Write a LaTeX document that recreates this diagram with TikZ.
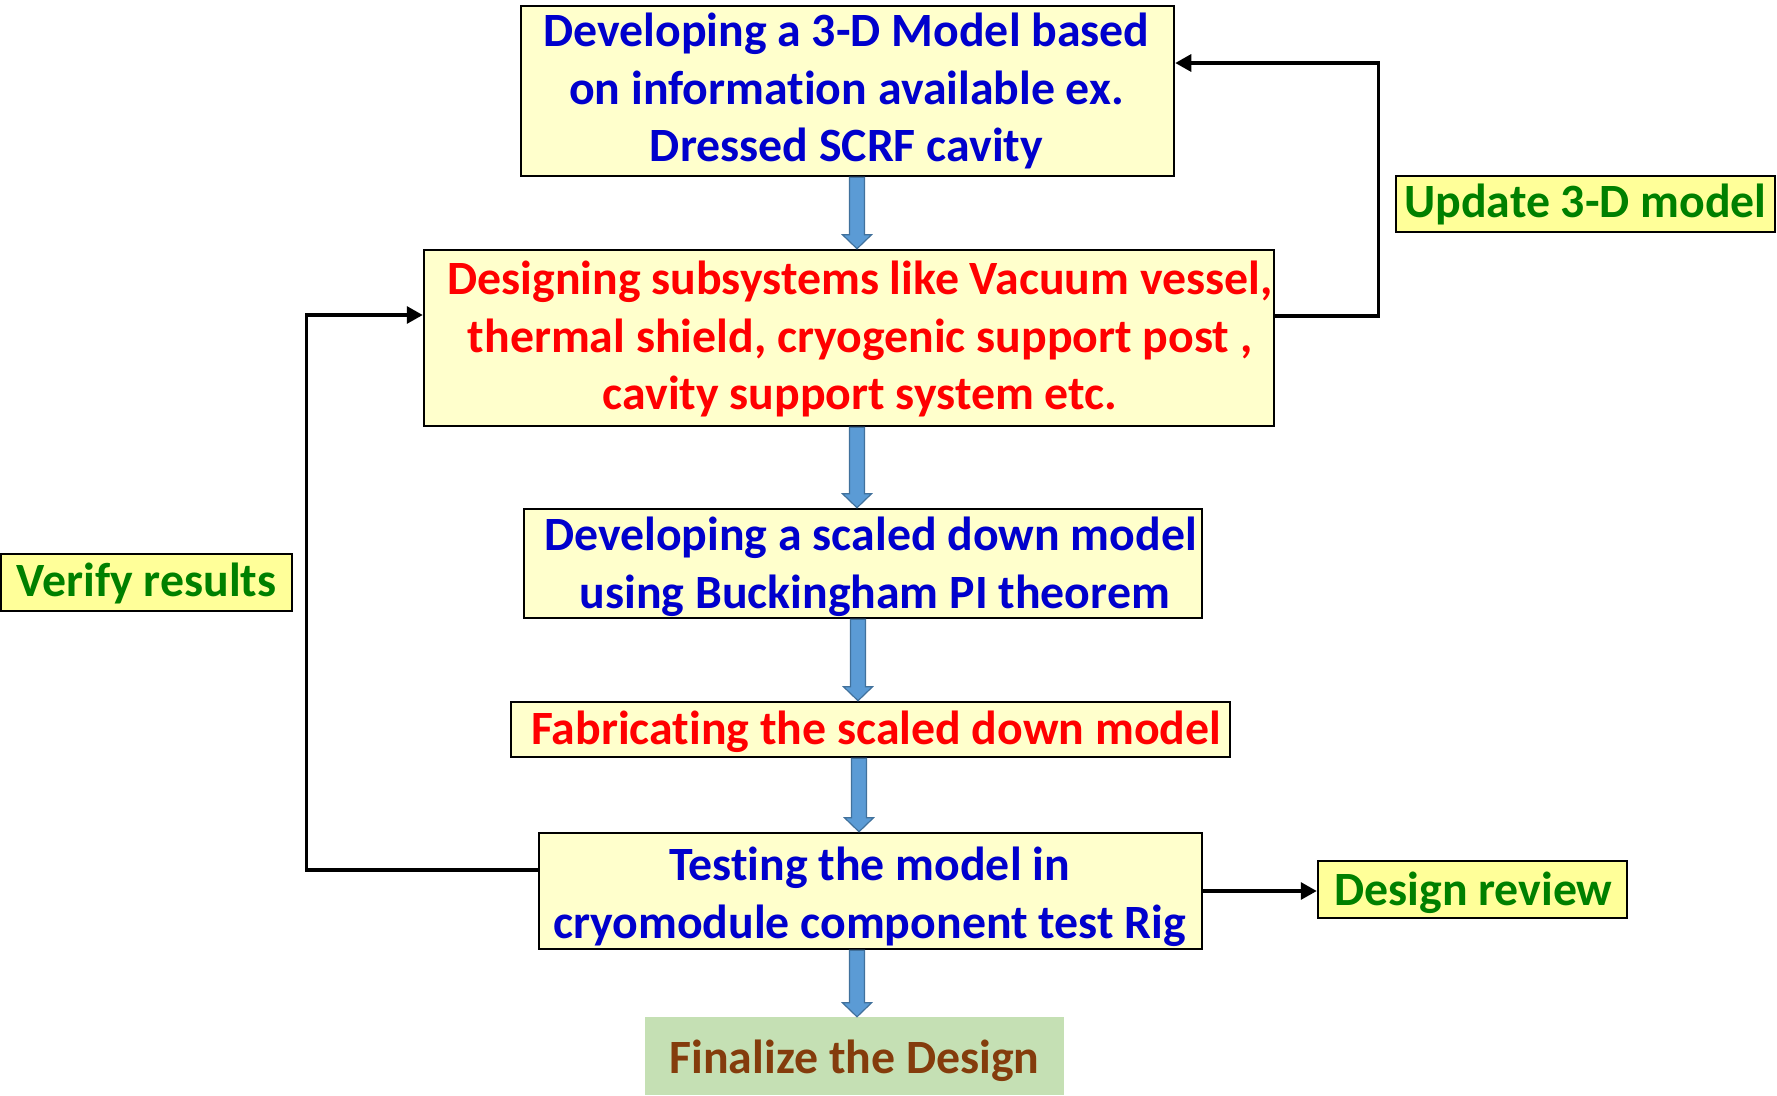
\documentclass[tikz,border=0pt]{standalone}
\usepackage{fontspec}
\setmainfont{Carlito}[Ligatures=NoCommon]
\usetikzlibrary{arrows.meta,calc}
\definecolor{tblue}{HTML}{0000CC}
\definecolor{tred}{HTML}{FF0000}
\definecolor{tgreen}{HTML}{008000}
\definecolor{tbrown}{HTML}{843C0C}
\definecolor{boxfill}{HTML}{FFFFCC}
\definecolor{labfill}{HTML}{FFFF99}
\definecolor{finfill}{HTML}{C5E0B4}
\definecolor{arrfill}{HTML}{5B9BD5}
\definecolor{arrdraw}{HTML}{41719C}
\tikzset{
  bigfont/.style={font=\fontsize{47.8}{57.5}\selectfont\bfseries},
  mainbox/.style={draw=black, line width=2.5pt, fill=boxfill, inner sep=0pt},
  boxtext/.style={inner sep=0pt, align=center, bigfont},
  labbox/.style={draw=black, line width=2.5pt, fill=labfill, inner sep=0pt},
  conn/.style={line width=3.2pt, -{Triangle[length=16pt,width=17pt]}},
  barrow/.style={fill=arrfill, draw=arrdraw, line width=1.2pt, line join=miter}
}
\newcommand{\blockarrow}[3]{%
  \draw[barrow] let \p1=(#1.south), \p2=(#2.north) in
    (#3pt-7.5pt,\y1) -- (#3pt+7.5pt,\y1) -- (#3pt+7.5pt,\y2+14pt) -- (#3pt+14.5pt,\y2+14pt)
    -- (#3pt,\y2) -- (#3pt-14.5pt,\y2+14pt) -- (#3pt-7.5pt,\y2+14pt) -- cycle;}
\begin{document}
\begin{tikzpicture}[x=1pt,y=-1pt]
\useasboundingbox (0,0) rectangle (1777,1095);
% boxes
\node[mainbox, minimum width=653pt, minimum height=170pt] (A) at (847.5,91) {};
\node[mainbox, minimum width=850pt, minimum height=176pt] (B) at (849,338) {};
\node[mainbox, minimum width=678pt, minimum height=109pt] (C) at (863,563.5) {};
\node[mainbox, minimum width=719pt, minimum height=55pt] (D) at (870.5,729.5) {};
\node[mainbox, minimum width=663pt, minimum height=116pt] (E) at (870.5,891) {};
\node[fill=finfill, inner sep=0pt, minimum width=419pt, minimum height=78pt] (F) at (854.5,1056) {};
\node[labbox, minimum width=379pt, minimum height=56pt] (U) at (1585.5,204) {};
\node[labbox, minimum width=291pt, minimum height=57pt] (V) at (146.5,582.5) {};
\node[labbox, minimum width=309pt, minimum height=57pt] (R) at (1472.5,889.5) {};
% texts
\node[boxtext, text=tblue] (At) at ([shift={(-1,0)}]A.center)
  {Developing a 3-D Model based\\ on information available ex.\\ Dressed SCRF cavity};
\node[boxtext, text=tred] (Bt) at ([shift={(11,1)}]B.center)
  {Designing subsystems like Vacuum vessel,\\ thermal shield, cryogenic support post ,\\ cavity support system etc.};
\node[boxtext, text=tblue] (Ct) at ([shift={(7.5,3.4)}]C.center)
  {Developing a scaled down model\\ \hspace*{8.5pt}using Buckingham PI theorem};
\node[boxtext, text=tred] (Dt) at ([shift={(5.7,2.3)}]D.center)
  {Fabricating the scaled down model};
\node[boxtext, text=tblue] (Et) at ([shift={(-1,5.7)}]E.center)
  {Testing the model in\\ cryomodule component test Rig};
\node[boxtext, text=tbrown] (Ft) at ([shift={(0,4.5)}]F.center) {Finalize the Design};
\node[boxtext, text=tgreen] (Ut) at (U.center) {Update 3-D model};
\node[boxtext, text=tgreen] (Vt) at ([shift={(0,1)}]V.center) {Verify results};
\node[boxtext, text=tgreen] (Rt) at ([shift={(1,3.4)}]R.center) {Design review};
% block arrows
\blockarrow{A}{B}{857}
\blockarrow{B}{C}{857}
\blockarrow{C}{D}{858}
\blockarrow{D}{E}{859}
\blockarrow{E}{F}{857}
% connectors
\draw[conn] ([yshift=22pt]B.east) -- ++(103,0) |- ([yshift=28pt]A.east);
\draw[conn] ([yshift=21pt]E.west) -- ++(-231,0) |- ([yshift=23pt]B.west);
\draw[conn] (E.east) -- (E.east -| R.west);
\end{tikzpicture}
\end{document}
